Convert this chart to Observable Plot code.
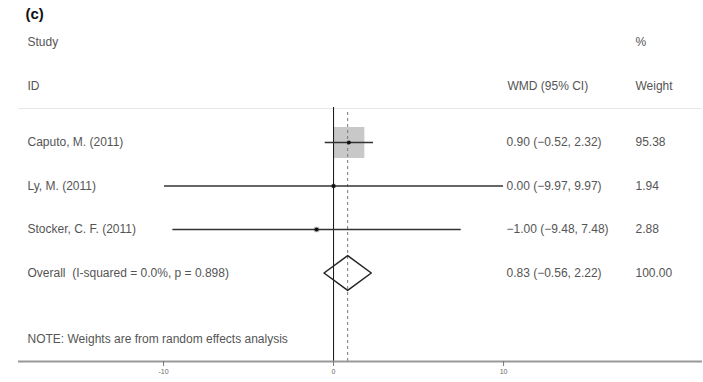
<!DOCTYPE html>
<html>
<head>
<meta charset="utf-8">
<script src="https://cdn.jsdelivr.net/npm/d3@7"></script>
<script src="https://cdn.jsdelivr.net/npm/@observablehq/plot@0.6"></script>
<style>
  html, body { margin: 0; padding: 0; background: #fff; }
  svg { display: block; }
</style>
</head>
<body>
<div id="chart"></div>
<script>
// ---- data ----
const studies = ["Caputo, M. (2011)", "Ly, M. (2011)", "Stocker, C. F. (2011)"];
const wmd = [0.90, 0.00, -1.00];
const lower = [-0.52, -9.97, -9.48];
const upper = [2.32, 9.97, 7.48];
const weights = [95.38, 1.94, 2.88];
const overallLabel = "Overall  (I-squared = 0.0%, p = 0.898)";
const overallEst = 0.83;
const overallLower = -0.56;
const overallUpper = 2.22;
const overallWeight = 100.00;
const xTicks = [-10, 0, 10];
const panelLabel = "(c)";
const headerTop = ["Study", "%"];
const headerBottom = ["ID", "WMD (95% CI)", "Weight"];
const note = "NOTE: Weights are from random effects analysis";

// ---- layout (row units) ----
const R_TITLE = -1.95, R_H1 = -1.30, R_H2 = -0.30, R_SEP = 0.218;
const R_NOTE = 5.53, R_ZERO_TOP = 0.195, R_DASH_TOP = 0.31, R_AXIS = 6.034;
const DIAMOND_H = 0.40;

const fmt = v => (v < 0 ? "\u2212" : "") + Math.abs(v).toFixed(2);
const rows = studies.map((s, i) => ({
  study: s, est: wmd[i], lo: lower[i], hi: upper[i], w: weights[i], row: i + 1,
  ci: `${fmt(wmd[i])} (${fmt(lower[i])}, ${fmt(upper[i])})`,
  wt: weights[i].toFixed(2)
}));
const ovRow = studies.length + 1;
const overall = {
  study: overallLabel, row: ovRow,
  ci: `${fmt(overallEst)} (${fmt(overallLower)}, ${fmt(overallUpper)})`,
  wt: overallWeight.toFixed(2)
};
const diamond = [
  {x: overallLower, y: ovRow},
  {x: overallEst, y: ovRow - DIAMOND_H},
  {x: overallUpper, y: ovRow},
  {x: overallEst, y: ovRow + DIAMOND_H},
  {x: overallLower, y: ovRow}
];
const textRows = [...rows, overall];

const font = "Liberation Sans, Arial, Helvetica, sans-serif";
const txt = "#555";

const chart = Plot.plot({
  width: 703,
  height: 382,
  marginLeft: 18,
  marginRight: 1,
  marginTop: 0,
  marginBottom: 21,
  style: {fontFamily: font, background: "#fff"},
  x: {domain: [-18.53, 21.7]},
  y: {domain: [-2.2644, R_AXIS], reverse: true, axis: null},
  r: {type: "sqrt", domain: [0, 100], range: [0, 17.9]},
  marks: [
    // faint separator
    Plot.ruleY([R_SEP], {stroke: "#e6e6e6", strokeWidth: 1}),
    // weight boxes
    Plot.dot(rows, {x: "est", y: "row", r: "w", symbol: "square", fill: "#c8c8c8", stroke: "none"}),
    // null line
    Plot.ruleX([0], {y1: R_ZERO_TOP, y2: R_AXIS, stroke: "#111", strokeWidth: 1}),
    // overall dashed line
    Plot.ruleX([overallEst], {y1: R_DASH_TOP, y2: R_AXIS, stroke: "#777", strokeWidth: 1, strokeDasharray: "3,3"}),
    // CIs
    Plot.link(rows, {x1: "lo", x2: "hi", y1: "row", y2: "row", stroke: "#333", strokeWidth: 1.6}),
    Plot.dot(rows, {x: "est", y: "row", r: 2, fill: "#111", stroke: "none"}),
    // diamond
    Plot.line(diamond, {x: "x", y: "y", stroke: "#222", strokeWidth: 1.5, fill: "none"}),
    // axis
    Plot.ruleY([R_AXIS], {stroke: "#999", strokeWidth: 2}),
    Plot.axisX({ticks: xTicks, tickSize: 5, tickPadding: 3, fontSize: 7, stroke: "#777", fill: "#666", label: null, tickFormat: d => d}),
    // texts
    Plot.text([panelLabel], {y: () => R_TITLE, text: d => d, frameAnchor: "left", dx: 7, fontSize: 15, fontWeight: "bold", fill: "#111", textAnchor: "start"}),
    Plot.text([headerTop[0]], {y: () => R_H1, text: d => d, frameAnchor: "left", dx: 9, fontSize: 12, fill: txt, textAnchor: "start"}),
    Plot.text([headerTop[1]], {y: () => R_H1, text: d => d, frameAnchor: "left", dx: 617, fontSize: 12, fill: txt, textAnchor: "start"}),
    Plot.text([headerBottom[0]], {y: () => R_H2, text: d => d, frameAnchor: "left", dx: 9, fontSize: 12, fill: txt, textAnchor: "start"}),
    Plot.text([headerBottom[1]], {y: () => R_H2, text: d => d, frameAnchor: "left", dx: 489, fontSize: 12, fill: txt, textAnchor: "start"}),
    Plot.text([headerBottom[2]], {y: () => R_H2, text: d => d, frameAnchor: "left", dx: 617, fontSize: 12, fill: txt, textAnchor: "start"}),
    Plot.text(textRows, {y: "row", text: "study", frameAnchor: "left", dx: 9, fontSize: 12, fill: txt, textAnchor: "start"}),
    Plot.text(textRows, {y: "row", text: "ci", frameAnchor: "left", dx: 488, fontSize: 12, fill: txt, textAnchor: "start"}),
    Plot.text(textRows, {y: "row", text: "wt", frameAnchor: "left", dx: 617, fontSize: 12, fill: txt, textAnchor: "start"}),
    Plot.text([note], {y: () => R_NOTE, text: d => d, frameAnchor: "left", dx: 9, fontSize: 12, fill: txt, textAnchor: "start"})
  ]
});
document.getElementById("chart").appendChild(chart);
</script>
</body>
</html>
